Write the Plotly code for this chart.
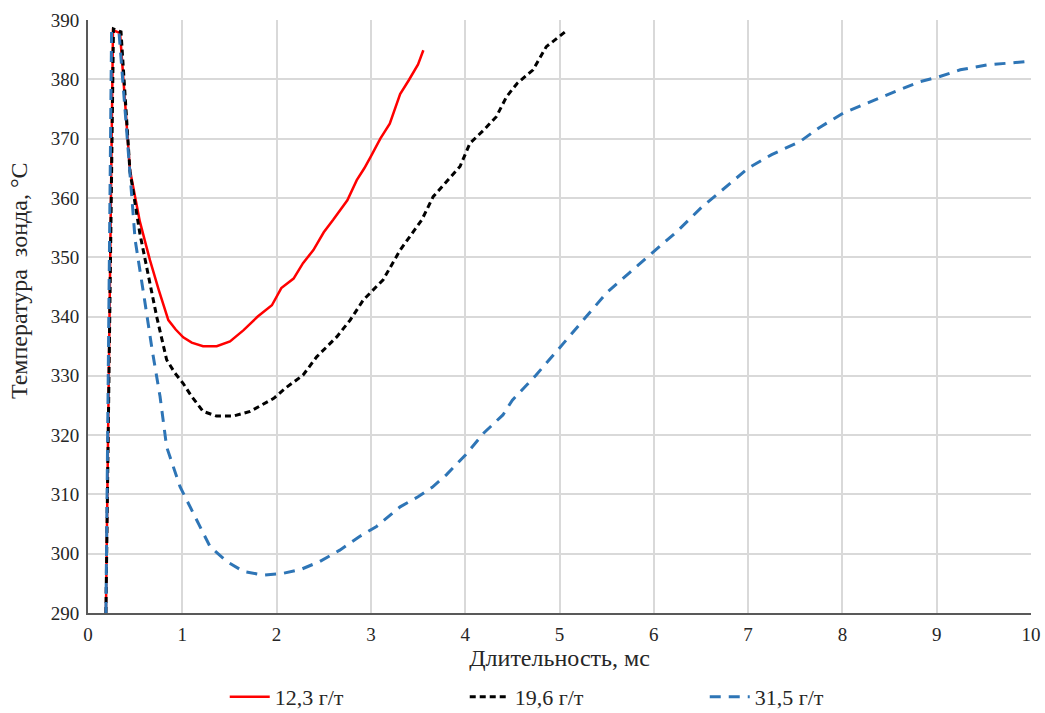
import plotly.graph_objects as go

# Probe temperature vs. pulse duration for three concentrations
red_x = [0.19, 0.265, 0.34, 0.445, 0.55, 0.657, 0.75, 0.852, 0.93, 1.01, 1.1, 1.22, 1.365,
         1.506, 1.65, 1.8, 1.95, 2.05, 2.18, 2.28, 2.39, 2.5, 2.6, 2.75, 2.85, 2.93, 3.0,
         3.1, 3.2, 3.31, 3.4, 3.5, 3.556]
red_y = [290, 388.3, 387.8, 364.7, 356, 349.5, 344.5, 339.4, 337.8, 336.5, 335.6, 335.0, 335.0,
         335.8, 337.7, 340, 341.9, 344.8, 346.4, 349, 351.2, 354.2, 356.3, 359.6, 363, 365, 367,
         370, 372.5, 377.5, 379.8, 382.5, 384.9]

black_x = [0.19, 0.27, 0.35, 0.445, 0.55, 0.657, 0.728, 0.834, 0.92, 1.01, 1.1, 1.22, 1.365,
           1.54, 1.72, 1.97, 2.1, 2.28, 2.425, 2.64, 2.78, 2.92, 3.13, 3.31, 3.54, 3.66, 3.8,
           3.945, 4.05, 4.2, 4.33, 4.44, 4.55, 4.72, 4.86, 5.06]
black_y = [290, 388.5, 388, 364.5, 354, 345.6, 340, 332.7, 330.5, 328.7, 326.5, 324, 323.2,
           323.2, 324, 326.2, 328, 330.1, 333.2, 336.6, 339.4, 342.8, 346.2, 351.2, 356.3, 360.2,
           362.8, 365.3, 369.2, 371.5, 373.7, 377.1, 379.3, 381.6, 385.5, 388.0]

blue_x = [0.19, 0.25, 0.33, 0.44, 0.5, 0.6, 0.68, 0.764, 0.834, 0.976, 1.117, 1.294, 1.47, 1.65,
          1.86, 2.07, 2.25, 2.46, 2.67, 2.88, 3.06, 3.31, 3.5, 3.65, 3.8, 4.0, 4.2, 4.4, 4.5,
          4.75, 5.0, 5.25, 5.5, 5.75, 6.0, 6.25, 6.5, 6.75, 7.0, 7.25, 7.55, 7.75, 8.01, 8.43,
          8.82, 9.02, 9.25, 9.53, 9.95]
blue_y = [290, 388, 387.7, 364.5, 352.9, 342.8, 334.4, 326.5, 318, 311.3, 306.8, 301.2, 298.7, 297,
          296.4, 296.7, 297.3, 298.7, 300.6, 302.9, 304.6, 307.9, 309.6, 311.2, 313.3, 316.6,
          320.4, 323.4, 325.9, 330.1, 334.7, 339.4, 344, 347.5, 350.9, 354.4, 358.3, 361.7, 365,
          367.3, 369.5, 371.8, 374.3, 377.1, 379.6, 380.4, 381.6, 382.4, 383.0]

series_names = ["12,3 г/т", "19,6 г/т", "31,5 г/т"]
x_ticks = list(range(0, 11))
y_ticks = list(range(290, 391, 10))

FONT = "Liberation Serif, Times New Roman, serif"
TEXT = "#262626"

fig = go.Figure()
fig.add_trace(go.Scatter(x=red_x, y=red_y, mode="lines", name=series_names[0],
                         line=dict(color="#ff0000", width=2.5)))
fig.add_trace(go.Scatter(x=black_x, y=black_y, mode="lines", name=series_names[1],
                         line=dict(color="#000000", width=3, dash="6px,4px")))
fig.add_trace(go.Scatter(x=blue_x, y=blue_y, mode="lines", name=series_names[2],
                         line=dict(color="#2e75b6", width=3, dash="11px,8px")))

axis_common = dict(showgrid=True, gridcolor="#d9d9d9", gridwidth=1.5, showline=True,
                   linecolor="#595959", linewidth=2, ticks="", zeroline=False,
                   automargin=False, tickfont=dict(size=19, color=TEXT))

fig.update_layout(
    width=1045, height=713,
    margin=dict(l=88, r=14, t=20, b=100),
    paper_bgcolor="white", plot_bgcolor="white",
    font=dict(family=FONT, size=19, color=TEXT),
    legend=dict(orientation="h", x=0.145, xanchor="left",
                yref="container", y=0.0225, yanchor="middle",
                entrywidth=185, font=dict(size=22), itemwidth=40,
                bgcolor="rgba(0,0,0,0)"),
    xaxis=dict(range=[0, 10], tickvals=x_ticks, ticklabelstandoff=3,
               title=dict(text="Длительность, мс", font=dict(size=24), standoff=4),
               **axis_common),
    yaxis=dict(range=[290, 390], tickvals=y_ticks, ticklabelstandoff=3, **axis_common),
    annotations=[dict(text="Температура  зонда, °С", textangle=-90, showarrow=False,
                      xref="paper", yref="paper", x=-0.073, y=0.56,
                      xanchor="center", yanchor="middle", font=dict(size=24, color=TEXT))],
)

fig.write_html("out.html")
